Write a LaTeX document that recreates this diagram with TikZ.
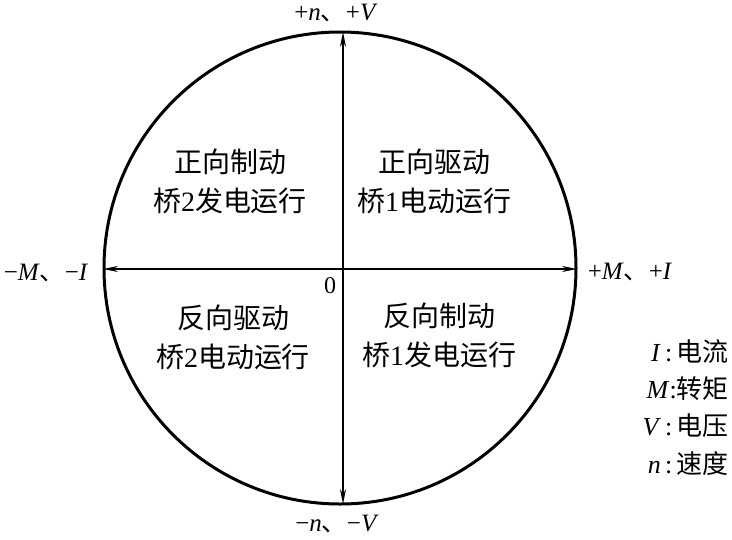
\documentclass[tikz,border=0pt]{standalone}
\usepackage{fontspec}
\setmainfont{Liberation Serif}
\newfontfamily\cjk{Noto Sans CJK SC}
\usetikzlibrary{arrows.meta}
\tikzset{
  axis/.style={line width=1.3pt, {Stealth[length=15pt,width=6pt]}-{Stealth[length=15pt,width=6pt]}},
  quad/.style={align=center, inner sep=0pt, font=\fontsize{28}{39}\selectfont},
  axlabel/.style={inner sep=0pt, font=\fontsize{25}{27}\selectfont},
  legend/.style={inner sep=0pt, anchor=east, font=\fontsize{26}{28}\selectfont}
}
\begin{document}
\begin{tikzpicture}[x=1pt,y=-1pt]
\useasboundingbox (0,0) rectangle (732,539);
\node[circle, draw, line width=3pt, minimum size=472pt, inner sep=0pt] (c) at (340,268) {};
\coordinate (top) at (343,32);
\coordinate (bot) at (343,504);
\coordinate (lft) at (103,269);
\coordinate (rgt) at (577,269);
\draw[axis] (bot) -- (top);
\draw[axis] (lft) -- (rgt);
\node[quad] (q1) at (434,181) {{\cjk 正向驱动}\\{\cjk 桥}1{\cjk 电动运行}};
\node[quad] (q2) at (230,181) {{\cjk 正向制动}\\{\cjk 桥}2{\cjk 发电运行}};
\node[quad] (q3) at (233,337) {{\cjk 反向驱动}\\{\cjk 桥}2{\cjk 电动运行}};
\node[quad] (q4) at (439,335) {{\cjk 反向制动}\\{\cjk 桥}1{\cjk 发电运行}};
\node[axlabel] (lt) at (336,13) {+\textit{n}{\cjk 、}+\textit{V}};
\node[axlabel] (lb) at (337,524) {−\textit{n}{\cjk 、}−\textit{V}};
\node[axlabel] (ll) at (46,273) {−\textit{M}{\cjk 、}−\textit{I}};
\node[axlabel] (lr) at (630,272) {+\textit{M}{\cjk 、}+\textit{I}};
\node[inner sep=0pt, font=\fontsize{24}{26}\selectfont] (o) at (330,286) {0};
\node[legend] (g1) at (729,352) {\textit{I}\,:\,{\cjk 电流}};
\node[legend] (g2) at (729,389) {\textit{M}:{\cjk 转矩}};
\node[legend] (g3) at (729,426) {\textit{V}\,:\,{\cjk 电压}};
\node[legend] (g4) at (729,464) {\textit{n}\,:\,{\cjk 速度}};
\end{tikzpicture}
\end{document}
